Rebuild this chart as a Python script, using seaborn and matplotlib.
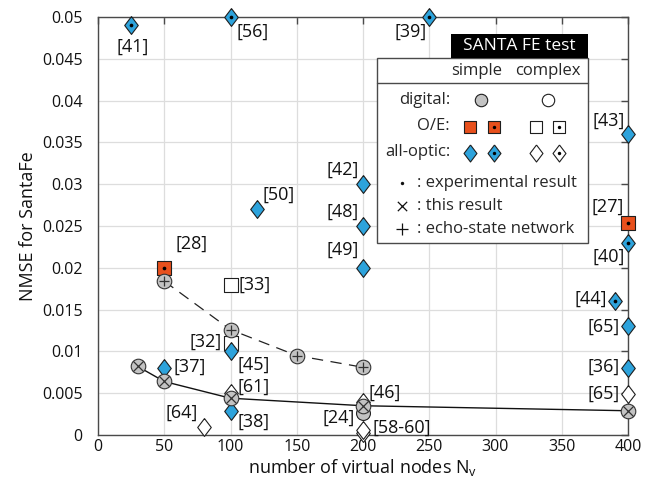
import matplotlib
matplotlib.use("Agg")
import matplotlib.pyplot as plt
from matplotlib.patches import Rectangle
import pandas as pd
import seaborn as sns

# ---------------------------------------------------------------- data
# echo-state network (dashed line)
esn_nodes = [50, 100, 150, 200]
esn_nmse = [0.0184, 0.0126, 0.0095, 0.0081]

# this result (solid line)
this_nodes = [30, 50, 100, 200, 400]
this_nmse = [0.0082, 0.0064, 0.0044, 0.0035, 0.0029]

# digital reservoirs, simple
dig_s_refs = ["[24]"]
dig_s_nodes = [200]
dig_s_nmse = [0.0026]

# opto-electronic reservoirs, simple
oe_s_refs = ["[28]", "[27]"]
oe_s_nodes = [50, 400]
oe_s_nmse = [0.020, 0.0254]
oe_s_exp = [True, True]

# opto-electronic reservoirs, complex
oe_c_refs = ["[33]", "[32]"]
oe_c_nodes = [100, 100]
oe_c_nmse = [0.018, 0.011]
oe_c_exp = [False, False]

# all-optical reservoirs, simple
ao_s_refs = ["[41]", "[56]", "[39]", "[43]", "[42]", "[48]", "[49]", "[50]",
             "[40]", "[44]", "[65]", "[36]", "[45]", "[37]", "[38]"]
ao_s_nodes = [25, 100, 250, 400, 200, 200, 200, 120, 400, 390, 400, 400, 100, 50, 100]
ao_s_nmse = [0.049, 0.050, 0.050, 0.036, 0.030, 0.025, 0.020, 0.027,
             0.023, 0.016, 0.013, 0.008, 0.010, 0.008, 0.0029]
ao_s_exp = [True, True, True, False, False, False, False, False,
            True, True, False, False, False, False, False]

# all-optical reservoirs, complex
ao_c_refs = ["[61]", "[64]", "[46]", "[58-60]", "", "[65]"]
ao_c_nodes = [100, 80, 200, 200, 200, 400]
ao_c_nmse = [0.005, 0.001, 0.0039, 0.0002, 0.0006, 0.0049]
ao_c_exp = [False, False, False, False, False, False]

x_ticks = [0, 50, 100, 150, 200, 250, 300, 350, 400]
y_ticks = [0, 0.005, 0.01, 0.015, 0.02, 0.025, 0.03, 0.035, 0.04, 0.045, 0.05]
y_ticklabels = ["0", "0.005", "0.01", "0.015", "0.02", "0.025", "0.03",
                "0.035", "0.04", "0.045", "0.05"]

# label placement (pixel offsets from the marker, horizontal alignment)
label_place = {
    ("[24]", 200): (-24, -5, "center"),
    ("[28]", 50): (27, 24, "center"),
    ("[27]", 400): (-20, 16, "center"),
    ("[33]", 100): (8, 0, "left"),
    ("[32]", 100): (-9, 1, "right"),
    ("[41]", 25): (2, -21, "center"),
    ("[56]", 100): (6, -15, "left"),
    ("[39]", 250): (-3, -15, "right"),
    ("[43]", 400): (-3, 13, "right"),
    ("[42]", 200): (-4, 14, "right"),
    ("[48]", 200): (-4, 14, "right"),
    ("[49]", 200): (-4, 18, "right"),
    ("[50]", 120): (6, 14, "left"),
    ("[40]", 400): (-3, -14, "right"),
    ("[44]", 390): (-8, 2, "right"),
    ("[65]", 400): (-8, 0, "right"),
    ("[36]", 400): (-8, 1, "right"),
    ("[45]", 100): (7, -13, "left"),
    ("[37]", 50): (9, 1, "left"),
    ("[38]", 100): (7, -11, "left"),
    ("[61]", 100): (7, 6, "left"),
    ("[64]", 80): (-6, 14, "right"),
    ("[46]", 200): (5, 10, "left"),
    ("[58-60]", 200): (9, 6, "left"),
}

# ---------------------------------------------------------------- style
BLUE = "#2DA3DC"
ORANGE = "#E8501C"
GRAY = "#C3C3C3"
EDGE = "#1e1e1e"
DIAMOND = [(0, 1), (0.76, 0), (0, -1), (-0.76, 0), (0, 1)]

sns.set_theme(style="white")
plt.rcParams["font.family"] = ["Open Sans", "DejaVu Sans"]
plt.rcParams["mathtext.fontset"] = "custom"
plt.rcParams["mathtext.rm"] = "Open Sans"
plt.rcParams["mathtext.it"] = "Open Sans"
FS_TICK = 11.5
FS_AXIS = 13
FS_NOTE = 13
FS_KEY = 12

W, H = 657, 487
fig = plt.figure(figsize=(W / 100, H / 100), dpi=100)
L, R, T, B = 98, 628, 17, 435
ax = fig.add_axes([L / W, 1 - B / H, (R - L) / W, (B - T) / H])


def fig_xy(px, py):
    return px / W, 1 - py / H


# lines
sns.lineplot(x=esn_nodes, y=esn_nmse, ax=ax, color="#222222", lw=0.9, zorder=2)
ax.lines[-1].set_dashes((9, 6))
sns.lineplot(x=this_nodes, y=this_nmse, ax=ax, color="#111111", lw=1.0, zorder=2)


def group(nodes, nmse, refs, exp, marker, face, size):
    df = pd.DataFrame({"nodes": nodes, "nmse": nmse, "ref": refs,
                       "exp": exp if exp is not None else [False] * len(nodes)})
    sns.scatterplot(data=df, x="nodes", y="nmse", ax=ax, marker=marker,
                    color=face, edgecolor=EDGE, linewidth=0.8, s=size,
                    clip_on=False, zorder=4, legend=False)
    e = df[df["exp"]]
    if len(e):
        sns.scatterplot(data=e, x="nodes", y="nmse", ax=ax, marker="o",
                        color="black", edgecolor="black", linewidth=0, s=7,
                        clip_on=False, zorder=5, legend=False)
    for _, r in df.iterrows():
        if not r["ref"]:
            continue
        dx, dy, ha = label_place[(r["ref"], r["nodes"])]
        ax.annotate(r["ref"], (r["nodes"], r["nmse"]), xytext=(dx, dy),
                    textcoords="offset pixels", ha=ha, va="center",
                    fontsize=FS_NOTE, color="#111111", zorder=6,
                    annotation_clip=False)


group(ao_c_nodes, ao_c_nmse, ao_c_refs, ao_c_exp, DIAMOND, "white", 165)
group(oe_c_nodes, oe_c_nmse, oe_c_refs, oe_c_exp, "s", "white", 100)
group(ao_s_nodes, ao_s_nmse, ao_s_refs, ao_s_exp, DIAMOND, BLUE, 165)
group(oe_s_nodes, oe_s_nmse, oe_s_refs, oe_s_exp, "s", ORANGE, 100)
group(dig_s_nodes, dig_s_nmse, dig_s_refs, None, "o", GRAY, 100)

# echo-state network and this result markers
for nodes, nmse, sym, ss in [(esn_nodes, esn_nmse, "+", 60),
                             (this_nodes, this_nmse, "x", 55)]:
    sns.scatterplot(x=nodes, y=nmse, ax=ax, marker="o", color=GRAY,
                    edgecolor="#333333", linewidth=0.8, s=110, clip_on=False,
                    zorder=4.5, legend=False)
    sns.scatterplot(x=nodes, y=nmse, ax=ax, marker=sym, color="#333333",
                    linewidth=0.9, s=ss, clip_on=False, zorder=4.6, legend=False)

# axes
ax.set_xlim(0, 400)
ax.set_ylim(0, 0.05)
ax.set_xticks(x_ticks)
ax.set_xticklabels([str(v) for v in x_ticks], fontsize=FS_TICK)
ax.set_yticks(y_ticks)
ax.set_yticklabels(y_ticklabels, fontsize=FS_TICK)
ax.grid(True, color="#dddddd", lw=0.9)
ax.set_axisbelow(True)
for sp in ax.spines.values():
    sp.set_color("#4a4a4a")
    sp.set_linewidth(1.0)
ax.tick_params(axis="both", direction="in", top=True, right=True, length=5,
               width=1.0, color="#4a4a4a", labelcolor="#111111")
ax.tick_params(axis="x", pad=3)
ax.tick_params(axis="y", pad=11)
ax.set_xlabel(r"number of virtual nodes N$_{\mathrm{v}}$", fontsize=FS_AXIS,
              color="#111111", labelpad=1)
ax.set_ylabel("NMSE for SantaFe", fontsize=FS_AXIS, color="#111111", labelpad=4)

# ---------------------------------------------------------------- key box
tf = fig.transFigure
x0, y0 = fig_xy(377, 243)
x1, y1 = fig_xy(588, 58)
ax.add_patch(Rectangle((x0, y0), x1 - x0, y1 - y0, transform=tf,
                       facecolor="white", edgecolor="#4a4a4a", lw=1.0,
                       zorder=10, clip_on=False))
hx0, hy0 = fig_xy(451, 58)
hx1, hy1 = fig_xy(588, 34)
ax.add_patch(Rectangle((hx0, hy0), hx1 - hx0, hy1 - hy0, transform=tf,
                       facecolor="black", edgecolor="black", lw=0,
                       zorder=11, clip_on=False))
ax.text(*fig_xy(519.5, 46.5), "SANTA FE test", transform=tf, color="white",
        ha="center", va="center", fontsize=FS_KEY + 0.5, zorder=12)
sx0, sy = fig_xy(377, 83)
sx1, _ = fig_xy(588, 83)
ax.plot([sx0, sx1], [sy, sy], transform=tf, color="#4a4a4a", lw=1.0,
        zorder=11, clip_on=False)

ax.text(*fig_xy(477, 71), "simple", transform=tf, ha="center", va="center",
        fontsize=FS_KEY, zorder=12)
ax.text(*fig_xy(548, 71), "complex", transform=tf, ha="center", va="center",
        fontsize=FS_KEY, zorder=12)
for label, py in [("digital:", 100), ("O/E:", 126), ("all-optic:", 152)]:
    ax.text(*fig_xy(450, py), label, transform=tf, ha="right", va="center",
            fontsize=FS_KEY, zorder=12)


def key_marker(px, py, marker, face, size, dot=False):
    kx, ky = fig_xy(px, py)
    ax.scatter([kx], [ky], transform=tf, marker=marker, s=size, c=face,
               edgecolors=EDGE, linewidths=0.8, zorder=13, clip_on=False)
    if dot:
        ax.scatter([kx], [ky], transform=tf, marker="o", s=6, c="black",
                   linewidths=0, zorder=14, clip_on=False)


key_marker(481, 100, "o", GRAY, 80)
key_marker(548, 100, "o", "white", 80)
key_marker(470, 127, "s", ORANGE, 80)
key_marker(494, 127, "s", ORANGE, 80, dot=True)
key_marker(536, 127, "s", "white", 80)
key_marker(559, 127, "s", "white", 80, dot=True)
key_marker(470, 153, DIAMOND, BLUE, 150)
key_marker(494, 153, DIAMOND, BLUE, 150, dot=True)
key_marker(536, 153, DIAMOND, "white", 150)
key_marker(559, 153, DIAMOND, "white", 150, dot=True)

for py, sym, ss, text in [(183, "o", 6, ": experimental result"),
                          (206, "x", 45, ": this result"),
                          (229, "+", 70, ": echo-state network")]:
    kx, ky = fig_xy(402, py)
    ax.scatter([kx], [ky], transform=tf, marker=sym, s=ss, c="#111111",
               linewidths=0.9 if sym != "o" else 0, zorder=13, clip_on=False)
    ax.text(*fig_xy(417, py), text, transform=tf, ha="left", va="center",
            fontsize=FS_KEY, zorder=12)

fig.savefig("out.png", dpi=100)
